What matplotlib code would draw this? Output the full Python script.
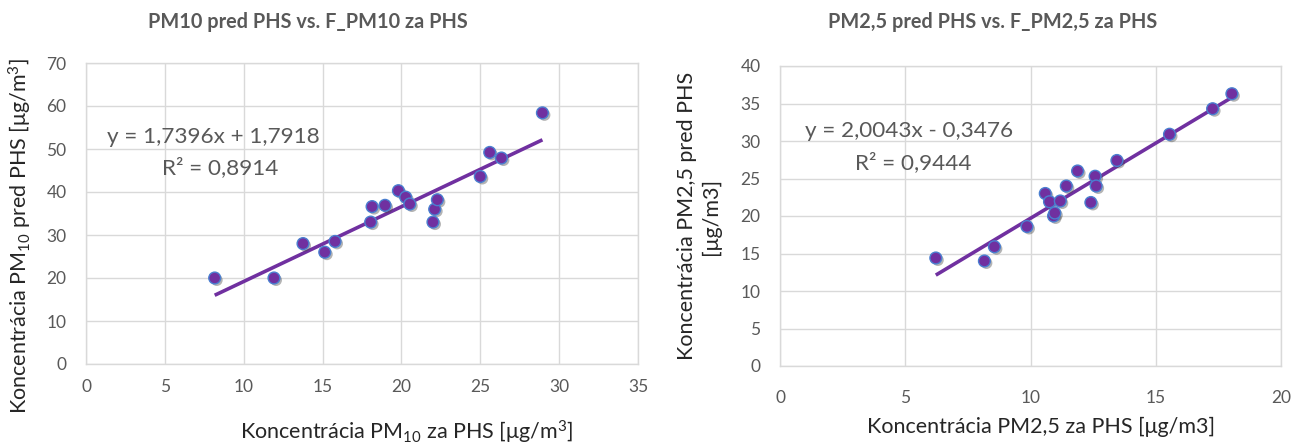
import matplotlib
matplotlib.use("Agg")
import matplotlib.pyplot as plt
import matplotlib.patheffects as pe
import numpy as np

plt.rcParams['font.family'] = ['Lato', 'DejaVu Sans']
plt.rcParams['mathtext.fontset'] = 'custom'
plt.rcParams['mathtext.rm'] = 'Lato'
plt.rcParams['mathtext.it'] = 'Lato:italic'
plt.rcParams['mathtext.bf'] = 'Lato:bold'

# ---- data: PM10 ----
pm10_za = [8.16, 11.92, 13.76, 15.14, 15.79, 18.05, 18.14, 18.96, 19.81, 20.27,
           20.53, 22.0, 22.11, 22.28, 25.0, 25.6, 26.34, 28.94]
pm10_pred = [20.0, 20.0, 28.0, 26.0, 28.5, 33.0, 36.6, 36.9, 40.3, 38.8,
             37.2, 33.0, 36.0, 38.2, 43.6, 49.2, 47.9, 58.4]
pm10_slope, pm10_intercept, pm10_r2 = 1.7396, 1.7918, 0.8914

# ---- data: PM2,5 ----
pm25_za = [6.22, 8.16, 8.56, 9.86, 10.59, 10.76, 10.92, 10.97, 11.19, 11.43,
           11.88, 12.41, 12.58, 12.62, 13.45, 15.55, 17.27, 18.04]
pm25_pred = [14.4, 14.0, 15.9, 18.6, 23.0, 21.9, 20.0, 20.4, 22.0, 24.0,
             26.0, 21.8, 25.3, 24.0, 27.4, 30.9, 34.3, 36.3]
pm25_slope, pm25_intercept, pm25_r2 = 2.0043, -0.3476, 0.9444

pm10_xticks = [0, 5, 10, 15, 20, 25, 30, 35]
pm10_yticks = [0, 10, 20, 30, 40, 50, 60, 70]
pm25_xticks = [0, 5, 10, 15, 20]
pm25_yticks = [0, 5, 10, 15, 20, 25, 30, 35, 40]

W, H = 1315, 445
fig = plt.figure(figsize=(W / 100, H / 100), dpi=100)

TXT = '#595959'
LAB = '#262626'
GRID = '#D9D9D9'
PURPLE = '#7030A0'
EDGE = '#4A7FD0'


def add_axes(l, t, r, b):
    return fig.add_axes([l / W, 1 - b / H, (r - l) / W, (b - t) / H])


def style(ax, xt, yt, xpad, ypad):
    ax.set_xlim(xt[0], xt[-1])
    ax.set_ylim(yt[0], yt[-1])
    ax.set_xticks(xt)
    ax.set_yticks(yt)
    ax.grid(True, color=GRID, lw=1)
    ax.set_axisbelow(True)
    for s in ax.spines.values():
        s.set_color(GRID)
        s.set_linewidth(1)
    ax.tick_params(length=0, labelsize=12.5, labelcolor=TXT)
    ax.tick_params(axis='x', pad=xpad)
    ax.tick_params(axis='y', pad=ypad)


def draw(ax, x, y, slope, intercept):
    x = np.asarray(x)
    xs = np.array([x.min(), x.max()])
    ax.plot(xs, slope * xs + intercept, color=PURPLE, lw=2.6, zorder=3,
            solid_capstyle='butt')
    ax.scatter(x, y, s=72, color=PURPLE, edgecolor=EDGE, linewidth=1.0, zorder=4,
               path_effects=[pe.SimplePatchShadow(offset=(1.5, -1.5), alpha=0.4, shadow_rgbFace='#444444'),
                             pe.Normal()])


def fmt(v):
    return f"{abs(v):.4f}".replace('.', ',')


# ---- left chart ----
ax1 = add_axes(86, 63, 638, 364)
style(ax1, pm10_xticks, pm10_yticks, 11, 14)
draw(ax1, pm10_za, pm10_pred, pm10_slope, pm10_intercept)
fig.text(308 / W, 1 - 22 / H, 'PM10 pred PHS vs. F_PM10 za PHS', ha='center', va='center',
         fontsize=14.3, fontweight='bold', color=TXT)
fig.text(20 / W, 1 - 236 / H, 'Koncentrácia PM$_{10}$ pred PHS [μg/m$^3$]', rotation=90,
         ha='center', va='center', fontsize=15.5, color=LAB)
fig.text(406 / W, 1 - 432 / H, 'Koncentrácia PM$_{10}$ za PHS [μg/m$^3$]',
         ha='center', va='center', fontsize=15.5, color=LAB)
sign = '+' if pm10_intercept >= 0 else '-'
fig.text(213 / W, 1 - 137 / H, f'y = {fmt(pm10_slope)}x {sign} {fmt(pm10_intercept)}',
         ha='center', va='center', fontsize=16.2, color=TXT)
fig.text(220 / W, 1 - 168 / H, f'R² = {fmt(pm10_r2)}',
         ha='center', va='center', fontsize=16.2, color=TXT)

# ---- right chart ----
ax2 = add_axes(780, 66, 1281, 366)
style(ax2, pm25_xticks, pm25_yticks, 17, 14)
draw(ax2, pm25_za, pm25_pred, pm25_slope, pm25_intercept)
fig.text(993 / W, 1 - 22 / H, 'PM2,5 pred PHS vs. F_PM2,5 za PHS', ha='center', va='center',
         fontsize=14.3, fontweight='bold', color=TXT)
fig.text(699 / W, 1 - 216 / H, 'Koncentrácia PM2,5 pred PHS\n[μg/m3]', rotation=90,
         ha='center', va='center', fontsize=15.5, color=LAB, linespacing=1.2)
fig.text(1041 / W, 1 - 427 / H, 'Koncentrácia PM2,5 za PHS [μg/m3]',
         ha='center', va='center', fontsize=15.5, color=LAB)
sign = '+' if pm25_intercept >= 0 else '-'
fig.text(909 / W, 1 - 131 / H, f'y = {fmt(pm25_slope)}x {sign} {fmt(pm25_intercept)}',
         ha='center', va='center', fontsize=16.2, color=TXT)
fig.text(913 / W, 1 - 163 / H, f'R² = {fmt(pm25_r2)}',
         ha='center', va='center', fontsize=16.2, color=TXT)

fig.savefig('out.png', dpi=100, facecolor='white')
